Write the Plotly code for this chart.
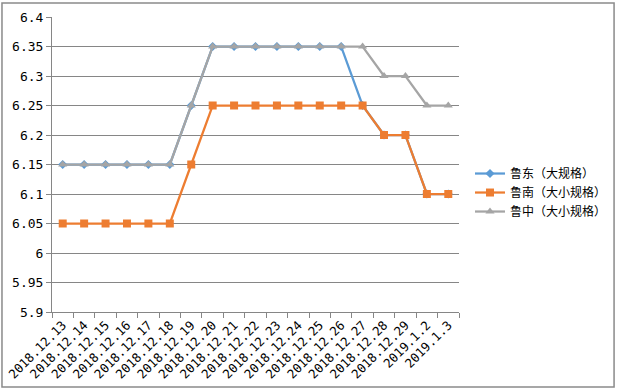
import plotly.graph_objects as go

dates = ["2018.12.13", "2018.12.14", "2018.12.15", "2018.12.16", "2018.12.17",
         "2018.12.18", "2018.12.19", "2018.12.20", "2018.12.21", "2018.12.22",
         "2018.12.23", "2018.12.24", "2018.12.25", "2018.12.26", "2018.12.27",
         "2018.12.28", "2018.12.29", "2019.1.2", "2019.1.3"]

ludong = [6.15, 6.15, 6.15, 6.15, 6.15, 6.15, 6.25, 6.35, 6.35, 6.35,
          6.35, 6.35, 6.35, 6.35, 6.25, 6.2, 6.2, 6.1, 6.1]
lunan = [6.05, 6.05, 6.05, 6.05, 6.05, 6.05, 6.15, 6.25, 6.25, 6.25,
         6.25, 6.25, 6.25, 6.25, 6.25, 6.2, 6.2, 6.1, 6.1]
luzhong = [6.15, 6.15, 6.15, 6.15, 6.15, 6.15, 6.25, 6.35, 6.35, 6.35,
           6.35, 6.35, 6.35, 6.35, 6.35, 6.3, 6.3, 6.25, 6.25]

series_names = ["鲁东（大规格）", "鲁南（大小规格）", "鲁中（大小规格）"]
y_tickvals = [5.9, 5.95, 6.0, 6.05, 6.1, 6.15, 6.2, 6.25, 6.3, 6.35, 6.4]
y_ticktext = ["5.9", "5.95", "6", "6.05", "6.1", "6.15", "6.2", "6.25", "6.3", "6.35", "6.4"]

font_fam = "Noto Sans CJK SC, DejaVu Sans"
mono = "DejaVu Sans Mono, Liberation Mono, monospace"

fig = go.Figure()
fig.add_trace(go.Scatter(x=dates, y=ludong, name=series_names[0], mode="lines+markers",
                         line=dict(color="#5B9BD5", width=2.25),
                         marker=dict(symbol="diamond", size=7, color="#5B9BD5")))
fig.add_trace(go.Scatter(x=dates, y=lunan, name=series_names[1], mode="lines+markers",
                         line=dict(color="#ED7D31", width=2.25),
                         marker=dict(symbol="square", size=8, color="#ED7D31")))
fig.add_trace(go.Scatter(x=dates, y=luzhong, name=series_names[2], mode="lines+markers",
                         line=dict(color="#A5A5A5", width=2.25),
                         marker=dict(symbol="triangle-up", size=8, color="#A5A5A5")))

fig.update_layout(
    width=617, height=391,
    margin=dict(l=52, r=158, t=17, b=79, autoexpand=False),
    paper_bgcolor="white", plot_bgcolor="white",
    font=dict(family=font_fam, size=12, color="#000000"),
    legend=dict(x=1.027, y=0.405, xanchor="left", yanchor="middle",
                font=dict(size=12, family=font_fam), bgcolor="rgba(0,0,0,0)",
                tracegroupgap=2),
    xaxis=dict(type="category", tickangle=-45, showgrid=False, showline=True,
               linecolor="#868686", linewidth=1, ticks="outside", tickson="boundaries",
               ticklen=5, tickcolor="#868686", automargin=False,
               tickfont=dict(size=12.5, family=mono),
               range=[-0.5, len(dates) - 0.5]),
    yaxis=dict(range=[5.9, 6.4], tickvals=y_tickvals, ticktext=y_ticktext,
               showgrid=True, gridcolor="#868686", gridwidth=1, showline=True,
               linecolor="#868686", linewidth=1, ticks="outside", ticklen=5,
               tickcolor="#868686", zeroline=False, automargin=False,
               tickfont=dict(size=13, family=mono)),
    shapes=[dict(type="rect", xref="paper", yref="paper",
                 x0=-0.1229, x1=1.381, y0=-0.254, y1=1.0475,
                 line=dict(color="#8A8A8A", width=1.5), fillcolor="rgba(0,0,0,0)")],
)

fig.write_html("out.html", config={"displayModeBar": False},
               post_script="document.body.style.margin='0px';")
